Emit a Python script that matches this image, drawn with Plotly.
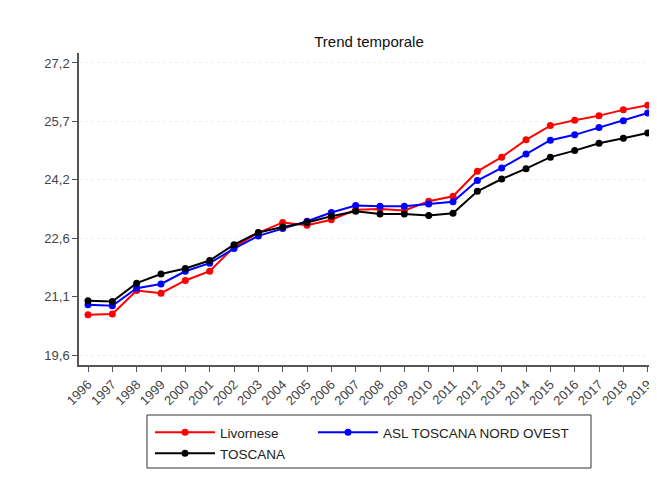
import plotly.graph_objects as go

# Data
years = list(range(1996, 2020))

livornese = [20.65, 20.67, 21.28, 21.21, 21.54, 21.78, 22.41, 22.78, 23.05, 22.98,
             23.12, 23.38, 23.40, 23.36, 23.60, 23.73, 24.38, 24.75, 25.20, 25.57,
             25.71, 25.83, 25.98, 26.10]
asl_nord_ovest = [20.91, 20.88, 21.34, 21.45, 21.78, 21.99, 22.37, 22.70, 22.89, 23.08,
                  23.31, 23.49, 23.47, 23.47, 23.53, 23.59, 24.14, 24.47, 24.83, 25.19,
                  25.33, 25.52, 25.70, 25.90]
toscana = [21.01, 20.99, 21.47, 21.71, 21.85, 22.06, 22.47, 22.79, 22.93, 23.05,
           23.21, 23.34, 23.27, 23.27, 23.23, 23.29, 23.86, 24.18, 24.45, 24.75,
           24.92, 25.11, 25.24, 25.38]

y_tickvals = [19.6, 21.12, 22.64, 24.16, 25.68, 27.2]
y_ticktext = ["19,6", "21,1", "22,6", "24,2", "25,7", "27,2"]

AXIS_COLOR = '#555555'
FONT = "Liberation Sans, Arial, sans-serif"

series = [
    ("Livornese", livornese, '#ff0000', 'legend'),
    ("ASL TOSCANA NORD OVEST", asl_nord_ovest, '#0000ff', 'legend3'),
    ("TOSCANA", toscana, '#000000', 'legend2'),
]

fig = go.Figure()
for name, vals, color, leg in series:
    fig.add_trace(go.Scatter(
        x=years, y=vals, name=name, mode='lines+markers',
        line=dict(color=color, width=2),
        marker=dict(color=color, size=7),
        legend=leg,
    ))

# page body has an 8px margin, so the figure is 8px smaller than the window
W, H = 649, 479


def legend_at(px_x, px_y):
    # legend box placed in screen pixels, converted to paper coords
    return dict(
        orientation='h', x=(px_x - 79) / 576, xanchor='left',
        y=-(px_y - 365) / 312, yanchor='top', itemwidth=60,
        bgcolor='rgba(0,0,0,0)', font=dict(size=13.5, color='#222222'),
    )


fig.update_layout(
    width=W, height=H,
    paper_bgcolor='white', plot_bgcolor='white',
    margin=dict(l=71, r=2, t=45, b=122),
    font=dict(family=FONT, size=13, color='#444444'),
    title=dict(text="Trend temporale", x=(369 - 8) / W, xanchor='center',
               y=1 - 34 / H, yanchor='middle',
               font=dict(size=15, color='#111111')),
    xaxis=dict(
        range=[1995.63, 2019.3], tickvals=years, tickangle=-45,
        showline=True, linecolor=AXIS_COLOR, linewidth=1.5,
        ticks='outside', ticklen=5, tickcolor=AXIS_COLOR,
        showgrid=False, zeroline=False,
    ),
    yaxis=dict(
        range=[19.34, 27.46], tickvals=y_tickvals, ticktext=y_ticktext,
        showline=True, linecolor=AXIS_COLOR, linewidth=1.5,
        ticks='outside', ticklen=5, tickcolor=AXIS_COLOR,
        showgrid=True, gridcolor='#eeeeee', griddash='dot',
        zeroline=False,
    ),
    legend=legend_at(150, 417),
    legend3=legend_at(313, 417),
    legend2=legend_at(150, 438),
    showlegend=True,
)

# legend frame
fig.add_shape(type='rect', xref='paper', yref='paper',
              x0=(147 - 79) / 576, x1=(591 - 79) / 576,
              y0=-(468 - 365) / 312, y1=-(415 - 365) / 312,
              line=dict(color='#333333', width=1))

fig.write_html("out.html")
